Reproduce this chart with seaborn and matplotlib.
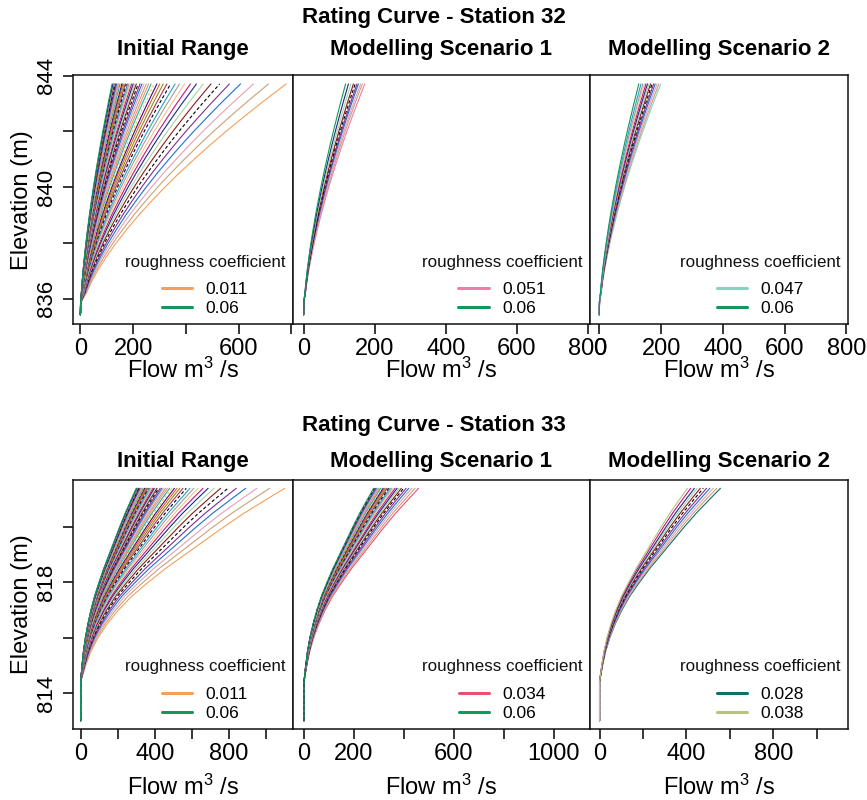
import numpy as np
import pandas as pd
import matplotlib
matplotlib.use("Agg")
import matplotlib.pyplot as plt
from matplotlib.lines import Line2D
import seaborn as sns

# ---------------- data ----------------
n_init = [0.011, 0.012, 0.013, 0.014, 0.015, 0.016, 0.017, 0.018, 0.019, 0.020,
          0.021, 0.022, 0.023, 0.024, 0.025, 0.026, 0.027, 0.028, 0.029, 0.030,
          0.031, 0.032, 0.033, 0.034, 0.035, 0.036, 0.037, 0.038, 0.039, 0.040,
          0.041, 0.042, 0.043, 0.044, 0.045, 0.046, 0.047, 0.048, 0.049, 0.050,
          0.051, 0.052, 0.053, 0.054, 0.055, 0.056, 0.057, 0.058, 0.059, 0.060]
n32_s1 = [0.051, 0.052, 0.053, 0.054, 0.055, 0.056, 0.057, 0.058, 0.059, 0.060]
n32_s2 = [0.047, 0.048, 0.049, 0.050, 0.051, 0.052, 0.053, 0.054, 0.055, 0.056,
          0.057, 0.058, 0.059, 0.060]
n33_s1 = [0.034, 0.035, 0.036, 0.037, 0.038, 0.039, 0.040, 0.041, 0.042, 0.043,
          0.044, 0.045, 0.046, 0.047, 0.048, 0.049, 0.050, 0.051, 0.052, 0.053,
          0.054, 0.055, 0.056, 0.057, 0.058, 0.059, 0.060]
n33_s2 = [0.028, 0.029, 0.030, 0.031, 0.032, 0.033, 0.034, 0.035, 0.036, 0.037, 0.038]

# flow at the top of each rating curve (m3/s)
q32_init = [780, 713, 656, 607, 565, 528, 495, 466, 440, 417, 395, 376, 359, 342, 328,
            314, 301, 290, 279, 268, 259, 250, 241, 233, 226, 219, 212, 206, 200, 194,
            189, 184, 179, 174, 170, 165, 161, 157, 153, 150, 146, 143, 140, 137, 134,
            131, 128, 125, 123, 120]
q32_s1 = [172, 165, 160, 154, 150, 145, 140, 133, 126, 118]
q32_s2 = [199, 193, 187, 181, 176, 171, 166, 161, 156, 151, 146, 141, 135, 128]
q33_init = [1102, 1020, 951, 891, 840, 795, 755, 720, 688, 660, 634, 611, 590, 570, 552,
            535, 520, 506, 492, 480, 468, 458, 447, 438, 429, 420, 412, 404, 397, 390,
            383, 377, 371, 365, 360, 355, 350, 345, 340, 336, 332, 328, 324, 320, 316,
            313, 309, 306, 303, 300]
q33_s1 = [459, 445, 432, 420, 409, 399, 390, 381, 373, 365, 358, 351, 345, 339, 333,
          327, 322, 317, 312, 307, 302, 298, 294, 290, 286, 282, 279]
q33_s2 = [557, 540, 524, 508, 493, 478, 464, 450, 437, 420, 405]

# rating-curve shape (elevation vs fraction of top flow)
elev32 = [835.42, 835.9, 836.2, 836.6, 837.0, 837.5, 838.0, 838.5, 839.0, 839.5,
          840.0, 840.5, 841.0, 841.5, 842.0, 842.5, 843.0, 843.7]
frac32 = [0.0, 0.005, 0.029, 0.054, 0.083, 0.126, 0.174, 0.227, 0.284, 0.346,
          0.411, 0.480, 0.553, 0.629, 0.708, 0.791, 0.876, 1.0]
elev33 = [813.0, 814.4, 814.6, 815.0, 815.5, 816.0, 816.5, 817.0, 817.5, 818.0,
          818.5, 819.0, 819.5, 820.0, 820.5, 821.0, 821.4]
frac33 = [0.0, 0.0, 0.008, 0.025, 0.05, 0.085, 0.13, 0.185, 0.25, 0.33,
          0.415, 0.51, 0.605, 0.70, 0.80, 0.91, 1.0]

# ticks
xt32 = [0, 200, 400, 600, 800]
xt33 = [0, 200, 400, 600, 800, 1000]
xl32 = [["0", "200", "", "600", ""],
        ["0", "200", "400", "600", "800"],
        ["0", "200", "400", "600", "800"]]
xl33 = [["0", "", "400", "", "800", ""],
        ["0", "200", "", "600", "", "1000"],
        ["0", "", "400", "", "800", ""]]
yt32 = [836, 838, 840, 842, 844]
yl32 = ["836", "", "840", "", "844"]
yt33 = [814, 816, 818, 820]
yl33 = ["814", "", "818", ""]

titles_row = ["Rating Curve - Station 32", "Rating Curve - Station 33"]
titles_panel = ["Initial Range", "Modelling Scenario 1", "Modelling Scenario 2"]
legend_title = "roughness coefficient"
legend_labels = [[["0.011", "0.06"], ["0.051", "0.06"], ["0.047", "0.06"]],
                 [["0.011", "0.06"], ["0.034", "0.06"], ["0.028", "0.038"]]]

# ---------------- style ----------------
legend_colors = [[["#F5A05A", "#12985A"], ["#F07CA8", "#12985A"], ["#86D2C2", "#12985A"]],
                 [["#F5A05A", "#12985A"], ["#EE4E72", "#12985A"], ["#0E6E68", "#B4C47A"]]]
mid_colors = ["#C8A27A", "#E8A0B4", "#1F6FD0", "#7E2F8E", "#000000", "#8B1A1A",
              "#A8D5A0", "#1B2A80", "#C71585", "#F5C28A", "#9E9E9E", "#2AA0C8",
              "#000000", "#B03060", "#8E8E20", "#D2691E", "#4B0082", "#E0D030",
              "#20B2AA", "#E9967A"]
mid_dashes = ["", "", "", "", (3, 2), "", "", "", "", "", "", "", (3, 2), "", "", "",
              "", (2, 2), "", ""]

sns.set_style("white")
plt.rcParams["font.family"] = ["Liberation Sans", "DejaVu Sans"]
plt.rcParams["mathtext.fontset"] = "custom"
plt.rcParams["mathtext.rm"] = "Liberation Sans"
plt.rcParams["mathtext.it"] = "Liberation Sans:italic"
plt.rcParams["mathtext.bf"] = "Liberation Sans:bold"
for key in ["text.color", "axes.labelcolor", "xtick.color", "ytick.color"]:
    plt.rcParams[key] = "black"

W, H = 867, 800
fig = plt.figure(figsize=(W / 100, H / 100), dpi=100)
fig.patch.set_facecolor("white")


def px_axes(x0, y0, x1, y1):
    return fig.add_axes([x0 / W, 1 - y1 / H, (x1 - x0) / W, (y1 - y0) / H])


cols = [(72.5, 293.0), (293.0, 590.0), (590.0, 848.3)]
rows = [(75.0, 324.3), (480.0, 729.0)]
xlims = [(-30, 806), (-44, 1146)]
ylims = [(835.08, 844.02), (812.7, 821.7)]
title_y = [18, 425]
ptitle_y = [49, 461]
xlabel_off = [54, 66]

panel_data = [
    [(n_init, q32_init), (n32_s1, q32_s1), (n32_s2, q32_s2)],
    [(n_init, q33_init), (n33_s1, q33_s1), (n33_s2, q33_s2)],
]
shapes = [(elev32, frac32), (elev33, frac33)]
xticks = [xt32, xt33]
xlabs = [xl32, xl33]
yticks = [yt32, yt33]
ylabs = [yl32, yl33]


def draw_panel(ax, n_vals, q_tops, elev, frac, first_col, last_col):
    recs = []
    labels = [f"{n:.3f}" for n in n_vals]
    for lab, q in zip(labels, q_tops):
        for e, f in zip(elev, frac):
            recs.append((lab, f * q, e))
    df = pd.DataFrame(recs, columns=["n", "flow", "elev"])
    pal, dsh = {}, {}
    for i, lab in enumerate(labels):
        if i == 0:
            pal[lab], dsh[lab] = first_col, ""
        elif i == len(labels) - 1:
            pal[lab], dsh[lab] = last_col, ""
        else:
            pal[lab] = mid_colors[(i - 1) % len(mid_colors)]
            dsh[lab] = mid_dashes[(i - 1) % len(mid_dashes)]
    sns.lineplot(data=df, x="flow", y="elev", hue="n", hue_order=labels, palette=pal,
                 style="n", style_order=labels, dashes=dsh, estimator=None, sort=False,
                 legend=False, linewidth=0.8, ax=ax)


for r in range(2):
    y0, y1 = rows[r]
    hgt = y1 - y0
    fig.text(0.5, 1 - title_y[r] / H, titles_row[r], ha="center", va="center",
             fontsize=16, fontweight="bold")
    for c in range(3):
        x0, x1 = cols[c]
        wid = x1 - x0
        ax = px_axes(x0, y0, x1, y1)
        n_vals, q_tops = panel_data[r][c]
        elev, frac = shapes[r]
        fc, lc = legend_colors[r][c]
        draw_panel(ax, n_vals, q_tops, elev, frac, fc, lc)
        ax.set_xlim(*xlims[r])
        ax.set_ylim(*ylims[r])
        ax.set_xticks(xticks[r])
        ax.set_xticklabels(xlabs[r][c], fontsize=17)
        ax.set_yticks(yticks[r])
        if c == 0:
            ax.set_yticklabels(ylabs[r], fontsize=16, rotation=90, va="center")
            ax.tick_params(axis="y", direction="out", length=7, width=1.1, pad=4,
                           left=True)
            ax.set_ylabel("Elevation (m)", fontsize=17, va="center")
            ax.yaxis.set_label_coords((22 - x0) / wid, 0.5)
        else:
            ax.tick_params(axis="y", left=False, labelleft=False)
            ax.set_ylabel("")
        ax.tick_params(axis="x", direction="out", length=7, width=1.1, pad=3,
                       bottom=True)
        ax.set_xlabel(r"Flow m$^{\mathrm{3}}$ /s", fontsize=17, va="baseline")
        ax.xaxis.set_label_coords(0.5, -xlabel_off[r] / hgt)
        for sp in ax.spines.values():
            sp.set_visible(True)
            sp.set_color("#111111")
            sp.set_linewidth(1.1)
        fig.text((x0 + x1) / 2 / W, 1 - ptitle_y[r] / H, titles_panel[c],
                 ha="center", va="center", fontsize=16, fontweight="bold")
        # legend: title as text, two entries centred beneath it
        lx = 1 - 88 / wid
        ax.text(lx, 62 / hgt, legend_title, transform=ax.transAxes,
                ha="center", va="center", fontsize=12.2, color="#111111")
        handles = [Line2D([], [], color=fc, lw=2.2), Line2D([], [], color=lc, lw=2.2)]
        ax.legend(handles, legend_labels[r][c], loc="center",
                  bbox_to_anchor=(lx, 25 / hgt), frameon=False, fontsize=12.5,
                  handlelength=1.75, handletextpad=0.75, labelspacing=0.22,
                  borderpad=0.0, borderaxespad=0.0)

fig.savefig("out.png", dpi=100, facecolor="white")
